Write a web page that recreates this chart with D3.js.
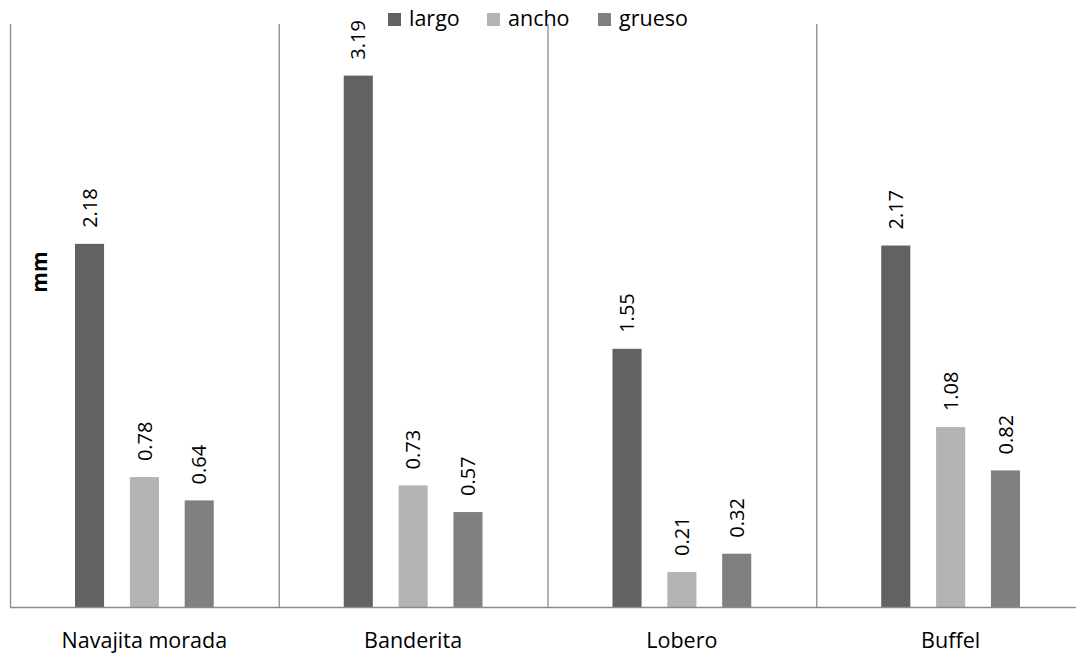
<!DOCTYPE html>
<html>
<head>
<meta charset="utf-8">
<script src="https://cdnjs.cloudflare.com/ajax/libs/d3/7.8.5/d3.min.js"></script>
<style>
  body { margin: 0; background: #fff; }
  text { font-family: "Open Sans", "Noto Sans", sans-serif; fill: #000; }
</style>
</head>
<body>
<div id="chart"></div>
<script>
// Data
const categories = ["Navajita morada", "Banderita", "Lobero", "Buffel"];
const seriesNames = ["largo", "ancho", "grueso"];
const largo = [2.18, 3.19, 1.55, 2.17];
const ancho = [0.78, 0.73, 0.21, 1.08];
const grueso = [0.64, 0.57, 0.32, 0.82];
const colors = ["#626262", "#b3b3b3", "#808080"];

const width = 1076;
const height = 656;
const seriesValues = [largo, ancho, grueso];

const svg = d3.select("#chart")
  .append("svg")
  .attr("width", width)
  .attr("height", height);

// Scales
const x = d3.scaleBand()
  .domain(categories)
  .range([10, 1085])
  .padding(0);

const xInner = d3.scaleBand()
  .domain(seriesNames)
  .range([65, x.bandwidth() - 65])
  .paddingInner(0.47);

const y = d3.scaleLinear()
  .domain([0, 3.5])
  .range([607, 24]);

// Group separators and axis line
svg.selectAll(".sep")
  .data(categories)
  .enter()
  .append("line")
  .attr("class", "sep")
  .attr("x1", d => x(d) + 0.5)
  .attr("x2", d => x(d) + 0.5)
  .attr("y1", y(3.5))
  .attr("y2", y(0))
  .attr("stroke", "#8c8c8c")
  .attr("stroke-width", 1.3);

// Bars
const groups = svg.selectAll(".group")
  .data(categories)
  .enter()
  .append("g")
  .attr("class", "group")
  .attr("transform", d => `translate(${x(d)},0)`);

const barData = (d, i) => seriesNames.map((s, j) => ({ s, j, v: seriesValues[j][i] }));

groups.selectAll("rect")
  .data(barData)
  .enter()
  .append("rect")
  .attr("x", d => xInner(d.s))
  .attr("width", xInner.bandwidth())
  .attr("y", d => y(d.v))
  .attr("height", d => y(0) - y(d.v))
  .attr("fill", d => colors[d.j]);

// Value labels (rotated)
groups.selectAll(".val")
  .data(barData)
  .enter()
  .append("text")
  .attr("class", "val")
  .attr("transform", d => `translate(${xInner(d.s) + xInner.bandwidth() / 2},${y(d.v) - 16}) rotate(-90)`)
  .attr("dy", "0.36em")
  .style("font-size", "20px")
  .text(d => d.v.toFixed(2));

// Baseline
svg.append("line")
  .attr("x1", 10)
  .attr("x2", width)
  .attr("y1", y(0) + 0.5)
  .attr("y2", y(0) + 0.5)
  .attr("stroke", "#8c8c8c")
  .attr("stroke-width", 1.5);

// Category labels
svg.selectAll(".cat")
  .data(categories)
  .enter()
  .append("text")
  .attr("class", "cat")
  .attr("x", d => x(d) + x.bandwidth() / 2)
  .attr("y", 648)
  .attr("text-anchor", "middle")
  .style("font-size", "21.5px")
  .text(d => d);

// Y axis title
svg.append("text")
  .attr("transform", "translate(40,272) rotate(-90)")
  .attr("text-anchor", "middle")
  .attr("dy", "0.35em")
  .style("font-size", "21px")
  .style("font-weight", "bold")
  .text("mm");

// Legend
const legendX = [388, 487, 598];
const legend = svg.selectAll(".legend")
  .data(seriesNames)
  .enter()
  .append("g")
  .attr("class", "legend")
  .attr("transform", (d, i) => `translate(${legendX[i]},0)`);

legend.append("rect")
  .attr("x", 0)
  .attr("y", 13)
  .attr("width", 13)
  .attr("height", 13)
  .attr("fill", (d, i) => colors[i]);

legend.append("text")
  .attr("x", 21)
  .attr("y", 26)
  .style("font-size", "21.5px")
  .text(d => d);
</script>
</body>
</html>
